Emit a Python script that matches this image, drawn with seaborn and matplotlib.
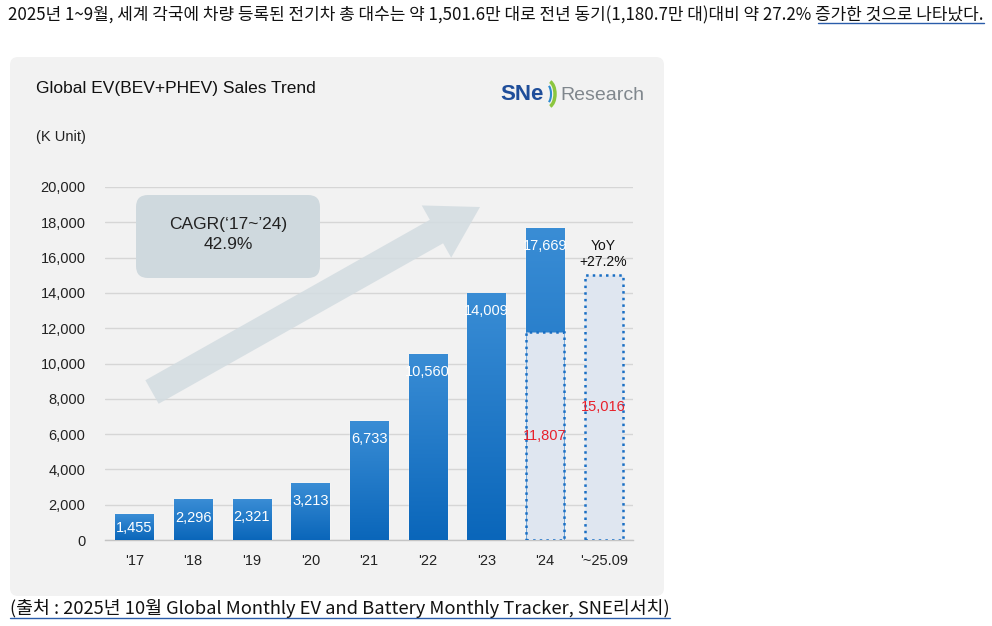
import numpy as np
import pandas as pd
import matplotlib
matplotlib.use("Agg")
import matplotlib.pyplot as plt
import seaborn as sn
from matplotlib.patches import FancyBboxPatch, FancyArrow, Arc
from matplotlib.colors import LinearSegmentedColormap
from matplotlib.lines import Line2D

# data (K units)
years = ["'17", "'18", "'19", "'20", "'21", "'22", "'23", "'24", "'~25.09"]
sales = [1455, 2296, 2321, 3213, 6733, 10560, 14009, 17669, 15016]
ytd_year = ["'24"]
ytd_sales = [11807]   # Jan-Sep 2024
yticks = list(range(0, 20001, 2000))

W, H = 992, 626
sn.set_theme(style="white")
plt.rcParams["font.family"] = ["Liberation Sans", "Noto Sans CJK KR", "DejaVu Sans"]

df = pd.DataFrame({"year": years, "sales": sales})
df_ytd = pd.DataFrame({"year": ytd_year, "sales": ytd_sales})

fig = plt.figure(figsize=(W / 100, H / 100), dpi=100)
fig.patch.set_facecolor("white")

def fx(x):
    return x / W

def fy(y):
    return 1 - y / H

# gray panel behind the chart
panel = FancyBboxPatch((10, H - 596), 654, 539, boxstyle="round,pad=0,rounding_size=8",
                       transform=None, facecolor="#f2f2f2", edgecolor="none", zorder=-5)
fig.add_artist(panel)

ax = fig.add_axes([fx(105), fy(540), 528 / W, 353 / H])
ax.set_facecolor("none")

blue = "#0b68bd"
light = "#dce5f3"
edge = "#1a6fc4"
pal = [blue] * 8 + [light]
sn.barplot(data=df, x="year", y="sales", hue="year", palette=pal, legend=False,
           width=0.65, order=years, ax=ax, zorder=3)
sn.barplot(data=df_ytd, x="year", y="sales", color=light, width=0.65,
           order=years, ax=ax, zorder=4)

grad_cmap = LinearSegmentedColormap.from_list("g", ["#3a8dd5", "#0a66ba"])
grad = np.linspace(0, 1, 256).reshape(-1, 1)
patches = ax.patches[:]
for i, p in enumerate(patches[:9]):
    if i < 8:
        x0, y0 = p.get_x(), p.get_y()
        im = ax.imshow(grad, extent=[x0, x0 + p.get_width(), y0, y0 + p.get_height()],
                       aspect="auto", cmap=grad_cmap, zorder=3.5)
        im.set_clip_path(p)
    else:
        p.set_edgecolor(edge)
        p.set_linestyle(":")
        p.set_linewidth(1.8)
for p in patches[9:]:
    if p.get_height() > 0:
        p.set_edgecolor(edge)
        p.set_linestyle(":")
        p.set_linewidth(1.8)

ax.set_xlim(-0.5, 8.5)
ax.set_ylim(0, 20000)

# value labels
for i, v in enumerate(sales[:8]):
    off = -10 if v < 2000 else -13
    ax.annotate(f"{v:,}", (i, v), xytext=(0, off), textcoords="offset points",
                ha="center", va="center", color="white", fontsize=10.5, zorder=6)
ax.text(7, ytd_sales[0] / 2, f"{ytd_sales[0]:,}", ha="center", va="center",
        color="#e8202a", fontsize=10.5, zorder=6)
ax.text(8, sales[8] / 2, f"{sales[8]:,}", ha="center", va="center",
        color="#e8202a", fontsize=10.5, zorder=6)
ax.annotate("YoY\n+27.2%", (8, sales[8]), xytext=(0, 15), textcoords="offset points",
            ha="center", va="center", color="#111111", fontsize=10, linespacing=1.15)

# axes styling
ax.set_yticks(yticks)
ax.set_yticklabels([f"{t:,}" for t in yticks])
ax.yaxis.grid(True, color="#d6d6d6", linewidth=1)
ax.set_axisbelow(True)
for s in ["top", "right", "left"]:
    ax.spines[s].set_visible(False)
ax.spines["bottom"].set_color("#c4c4c4")
ax.spines["bottom"].set_linewidth(1)
ax.tick_params(axis="y", length=0, pad=14, labelsize=10.5, labelcolor="#222222")
ax.tick_params(axis="x", which="major", length=0, pad=10, labelsize=10.5, labelcolor="#222222")
ax.set_xticks(np.arange(-0.5, 9, 1), minor=True)
ax.tick_params(axis="x", which="minor", length=4, color="#c4c4c4", direction="out")
ax.set_xlabel("")
ax.set_ylabel("")

# big growth arrow
arrow = FancyArrow(152, H - 392, 328, 185, width=27, head_width=60, head_length=50,
                   length_includes_head=True, transform=None, facecolor="#d3dce1",
                   edgecolor="none", alpha=0.85, zorder=1)
fig.add_artist(arrow)

# CAGR box
box = FancyBboxPatch((136, H - 278), 184, 83, boxstyle="round,pad=0,rounding_size=12",
                     transform=None, facecolor="#cfd9de", edgecolor="none", zorder=2)
fig.add_artist(box)
fig.text(fx(228), fy(224), "CAGR(\u201817~\u201924)", ha="center", va="center",
         fontsize=12.5, color="#222222", zorder=3)
fig.text(fx(228), fy(245), "42.9%", ha="center", va="center", fontsize=12.5,
         color="#222222", zorder=3)

# titles
fig.text(fx(36), fy(88), "Global EV(BEV+PHEV) Sales Trend", ha="left", va="center",
         fontsize=12.5, color="#111111")
fig.text(fx(36), fy(137), "(K Unit)", ha="left", va="center", fontsize=10.5,
         color="#222222")

# logo
fig.text(fx(500), fy(95), "SNe", ha="left", va="center", fontsize=16, fontweight="bold",
         color="#1f4e9a")
fig.add_artist(Arc((548, H - 94), 14, 26, theta1=-80, theta2=80, transform=None,
                   color="#8cc63f", linewidth=2.5))
fig.add_artist(Arc((546, H - 94), 10, 20, theta1=-70, theta2=70, transform=None,
                   color="#2e8bd0", linewidth=1.5))
fig.text(fx(560), fy(96), "Research", ha="left", va="center", fontsize=14,
         color="#80878d")

# header and source
kr = ["Noto Sans CJK KR", "DejaVu Sans"]
head_a = "2025년 1~9월, 세계 각국에 차량 등록된 전기차 총 대수는 약 1,501.6만 대로 전년 동기(1,180.7만 대)대비 약 27.2% "
head_b = "증가한 것으로 나타났다."
hs = 12.2
t_full = fig.text(fx(8), fy(15), head_a + head_b, ha="left", va="center", fontsize=hs,
                  family=kr, color="#111111")
src = fig.text(fx(10), fy(609), "(출처 : 2025년 10월 Global Monthly EV and Battery Monthly Tracker, SNE리서치)",
               ha="left", va="center", fontsize=13.2, family=kr, color="#111111")

r = fig.canvas.get_renderer()
tmp = fig.text(fx(8), fy(15), head_a, ha="left", va="center", fontsize=hs, family=kr)
bb_a = tmp.get_window_extent(r)
tmp.remove()
bb_full = t_full.get_window_extent(r)
fig.add_artist(Line2D([bb_a.x1 + 3, bb_full.x1], [bb_full.y0 + 1, bb_full.y0 + 1],
                      transform=None, color="#2a5caa", linewidth=1))
bb_s = src.get_window_extent(r)
fig.add_artist(Line2D([bb_s.x0, bb_s.x1], [bb_s.y0 + 1, bb_s.y0 + 1],
                      transform=None, color="#2a5caa", linewidth=1))

fig.savefig("out.png", dpi=100)
